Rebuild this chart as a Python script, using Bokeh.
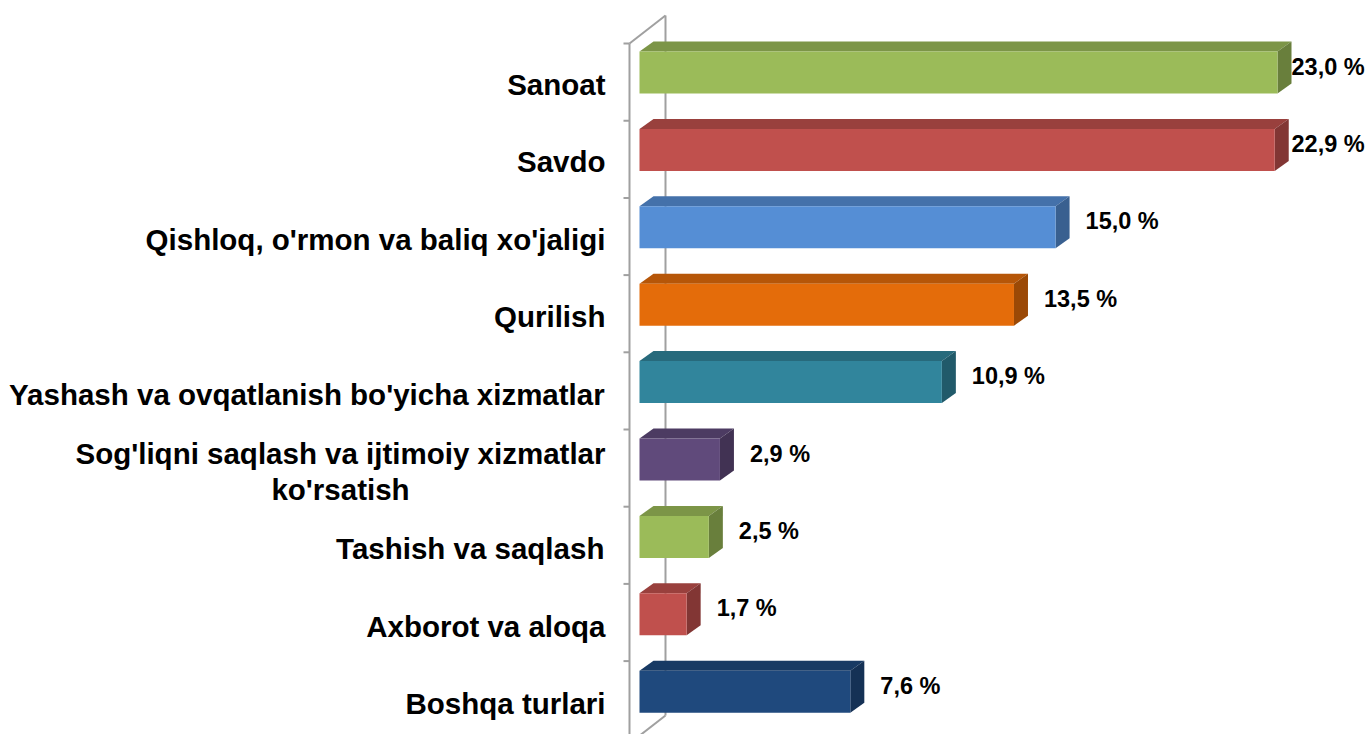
import numpy as np
from bokeh.plotting import figure
from bokeh.models import Range1d, ColumnDataSource
from bokeh.embed import file_html
from bokeh.resources import INLINE
from bokeh.core.properties import value

# ---------------- data ----------------
categories = [
    "Sanoat",
    "Savdo",
    "Qishloq, o'rmon va baliq xo'jaligi",
    "Qurilish",
    "Yashash va ovqatlanish bo'yicha xizmatlar",
    "Sog'liqni saqlash va ijtimoiy xizmatlar\nko'rsatish",
    "Tashish va saqlash",
    "Axborot va aloqa",
    "Boshqa turlari",
]
shares = [23.0, 22.9, 15.0, 13.5, 10.9, 2.9, 2.5, 1.7, 7.6]
bar_colors = ["#9BBB59", "#C0504D", "#558ED5", "#E46C0A", "#31859C",
              "#604A7B", "#9BBB59", "#C0504D", "#1F497D"]

# ---------------- geometry (pixels -> data) ----------------
W, H = 1366, 734
PAGE = 0
X0_PX, X23_PX = 639, 1277          # px of value 0 and value 23
kx = (X23_PX - X0_PX) / 23.0       # px per unit
Y0_PX, DY_PX = 72, 77.4            # px of first bar centre, px per category
x_start = (PAGE - X0_PX) / kx
x_end = (PAGE + W - X0_PX) / kx
y_top = (PAGE - Y0_PX) / DY_PX
y_bot = (PAGE + H - Y0_PX) / DY_PX

def px_x(d):
    return d / kx

def px_y(d):
    return d / DY_PX

def shade(hexcol, f):
    hexcol = hexcol.lstrip("#")
    r, g, b = (int(hexcol[i:i + 2], 16) for i in (0, 2, 4))
    return "#%02x%02x%02x" % (int(r * f), int(g * f), int(b * f))

p = figure(width=W, height=H, output_backend="svg", toolbar_location=None,
           x_range=Range1d(x_start, x_end), y_range=Range1d(y_bot, y_top),
           min_border=0, outline_line_color=None)
p.axis.visible = False
p.grid.visible = False
p.background_fill_color = "white"

n = len(shares)
idx = np.arange(n, dtype=float)
vals = np.array(shares)

# ---------------- walls / axis ----------------
wall_col = "#A0A0A0"
fx = px_x(629 - X0_PX)
bx = px_x(665 - X0_PX)
f_top = px_y(43 - Y0_PX)
b_top = px_y(15 - Y0_PX)
b_bot = px_y(715 - Y0_PX)
f_bot = px_y(743 - Y0_PX)
p.line([bx, bx], [b_top, b_bot], line_color=wall_col, line_width=2)
p.line([fx, bx], [f_top, b_top], line_color=wall_col, line_width=2)
p.line([fx, bx], [f_bot, b_bot], line_color=wall_col, line_width=2)
p.line([fx, fx], [f_top, f_bot], line_color=wall_col, line_width=2)
tick_y = f_top + np.arange(n + 1) * (77.2 / DY_PX)
p.segment(x0=np.full(n + 1, fx - px_x(6)), x1=np.full(n + 1, fx), y0=tick_y, y1=tick_y,
          line_color=wall_col, line_width=2)

# ---------------- 3D bars ----------------
h = px_y(21)
ddx = px_x(14)
ddy = px_y(10)

tops_x, tops_y, sides_x, sides_y = [], [], [], []
for i, v in zip(idx, vals):
    tops_x.append([0, ddx, v + ddx, v])
    tops_y.append([i - h, i - h - ddy, i - h - ddy, i - h])
    sides_x.append([v, v + ddx, v + ddx, v])
    sides_y.append([i - h, i - h - ddy, i + h - ddy, i + h])

p.patches(tops_x, tops_y, fill_color=[shade(c, 0.8) for c in bar_colors], line_color=None)
p.patches(sides_x, sides_y, fill_color=[shade(c, 0.68) for c in bar_colors], line_color=None)
p.quad(left=np.zeros(n), right=vals, top=idx - h, bottom=idx + h,
       fill_color=bar_colors, line_color=None)

# ---------------- value labels ----------------
lab_x = np.minimum(vals + ddx + px_x(16), px_x(1291 - X0_PX))
lab_txt = [("%.1f" % v).replace(".", ",") + " %" for v in vals]
p.text(x=lab_x, y=idx, text=lab_txt, text_font=value("Liberation Sans"),
       text_font_style="bold", text_font_size="23.5px", text_align="left",
       text_baseline="middle", y_offset=-6, text_color="black")

# ---------------- category labels ----------------
ARIAL_B = {" ": 278, "'": 238, ",": 278, "a": 556, "b": 611, "c": 556, "d": 611, "e": 556,
           "f": 333, "g": 611, "h": 611, "i": 278, "j": 278, "k": 556, "l": 278, "m": 889,
           "n": 611, "o": 611, "p": 611, "q": 611, "r": 389, "s": 556, "t": 333, "u": 611,
           "v": 556, "w": 778, "x": 556, "y": 556, "z": 500, "A": 722, "B": 722, "Q": 778,
           "S": 667, "T": 611, "Y": 667}
FS = 29.5
LINE_H = 36

def twidth(s):
    return sum(ARIAL_B.get(ch, 556) for ch in s) / 1000.0 * FS

cx, cy, ct, cxo, cyo = [], [], [], [], []
for i, lab in zip(idx, categories):
    lines = lab.split("\n")
    mw = max(twidth(l) for l in lines)
    for j, line in enumerate(lines):
        cx.append(0.0)
        cy.append(i)
        ct.append(line)
        cxo.append(-(X0_PX - 605) - mw / 2.0)
        cyo.append(12 + (j - (len(lines) - 1) / 2.0) * LINE_H)

src = ColumnDataSource(dict(x=cx, y=cy, t=ct, xo=cxo, yo=cyo))
p.text(x="x", y="y", text="t", x_offset="xo", y_offset="yo", source=src,
       text_font=value("Liberation Sans"), text_font_style="bold",
       text_font_size="%spx" % FS, text_align="center", text_baseline="middle",
       text_color="black")

open("out.html", "w").write(file_html(p, INLINE))
